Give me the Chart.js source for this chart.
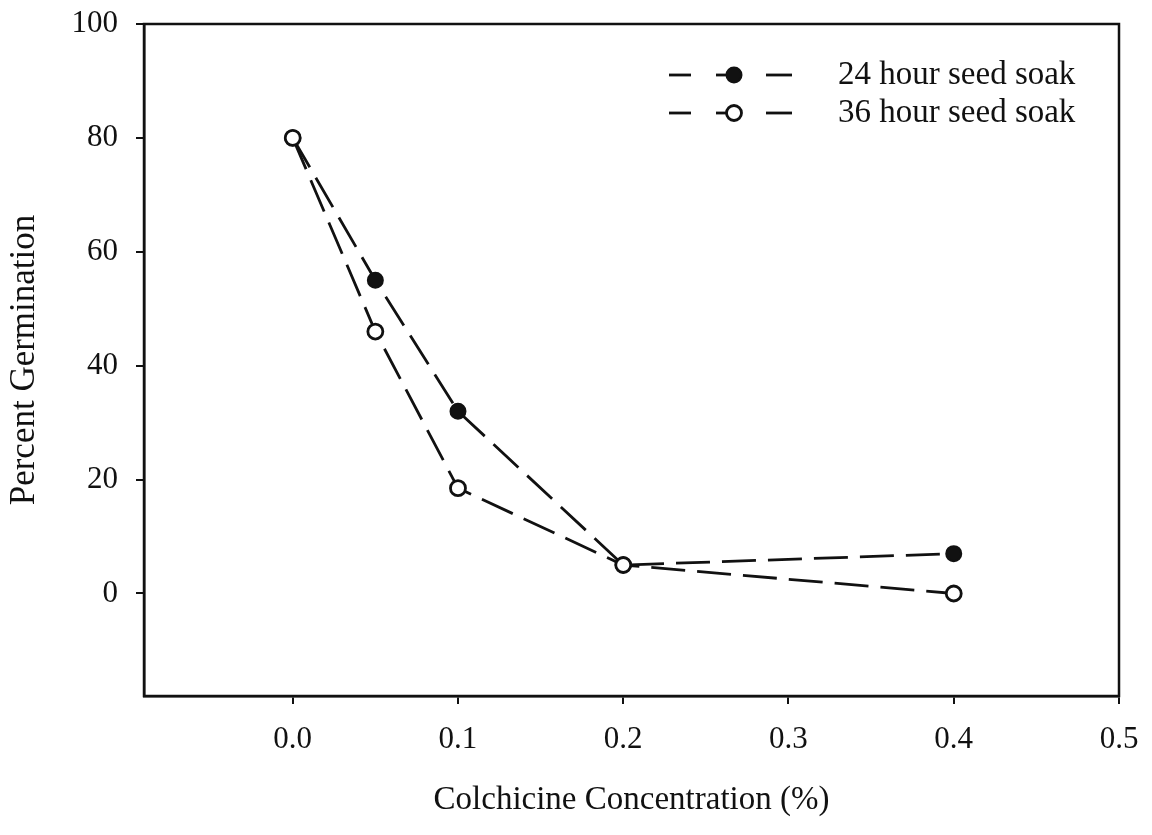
<!DOCTYPE html>
<html>
<head>
<meta charset="utf-8">
<script src="https://cdn.jsdelivr.net/npm/chart.js@4"></script>
<style>
  body { margin: 0; background: #fff; }
  #wrap { width: 1152px; height: 835px; position: relative; }
</style>
</head>
<body>
<div id="wrap"><canvas id="germChart"></canvas></div>
<script>
// Colchicine concentration (%) and germination (%) for each soak time
const concentration = [0, 0.05, 0.1, 0.2, 0.4];
const soak24 = [80, 55, 32, 5, 7];
const soak36 = [80, 46, 18.5, 5, 0];
const yTicks = [0, 20, 40, 60, 80, 100];
const xTicks = [0, 0.1, 0.2, 0.3, 0.4, 0.5];
const seriesLabels = ['24 hour seed soak', '36 hour seed soak'];

const serif = "'Liberation Serif', 'Times New Roman', serif";

function points(ys) {
  return concentration.map((c, i) => ({ x: c, y: ys[i] }));
}

// Box around the plot plus a legend with dashed line samples
const framePlugin = {
  id: 'frame',
  afterDatasetsDraw(chart) {
    const { ctx, chartArea: a } = chart;
    ctx.save();
    ctx.strokeStyle = '#111';
    ctx.lineWidth = 2.5;
    ctx.strokeRect(a.left, a.top, a.right - a.left, a.bottom - a.top);

    chart.data.datasets.forEach((ds, i) => {
      const y = a.top + 51 + i * 38;
      const x0 = a.right - 450;
      ctx.strokeStyle = ds.borderColor;
      ctx.lineWidth = ds.borderWidth;
      ctx.setLineDash([]);
      [[0, 22], [47, 65], [97, 123]].forEach(([s, e]) => {
        ctx.beginPath();
        ctx.moveTo(x0 + s, y);
        ctx.lineTo(x0 + e, y);
        ctx.stroke();
      });
      ctx.beginPath();
      ctx.arc(x0 + 65, y, ds.pointRadius, 0, Math.PI * 2);
      ctx.fillStyle = ds.pointBackgroundColor;
      ctx.fill();
      ctx.lineWidth = ds.pointBorderWidth;
      ctx.strokeStyle = ds.pointBorderColor;
      ctx.stroke();

      ctx.fillStyle = '#111';
      ctx.font = '33px ' + serif;
      ctx.textBaseline = 'middle';
      ctx.textAlign = 'left';
      ctx.fillText(ds.label, a.right - 281, y);
    });
    ctx.restore();
  }
};

const ctx = document.getElementById('germChart').getContext('2d');
const germChart = new Chart(ctx, {
  type: 'line',
  data: {
    datasets: [
      {
        label: seriesLabels[0],
        data: points(soak24),
        order: 1,
        borderColor: '#111',
        borderWidth: 2.8,
        borderDash: [34, 12],
        pointRadius: 7.5,
        pointBackgroundColor: '#111',
        pointBorderColor: '#111',
        pointBorderWidth: 2,
        tension: 0
      },
      {
        label: seriesLabels[1],
        data: points(soak36),
        order: 0,
        borderColor: '#111',
        borderWidth: 2.8,
        borderDash: [34, 12],
        pointRadius: 7.5,
        pointBackgroundColor: '#fff',
        pointBorderColor: '#111',
        pointBorderWidth: 2.8,
        tension: 0
      }
    ]
  },
  options: {
    animation: false,
    responsive: true,
    maintainAspectRatio: false,
    layout: { padding: { top: 24, right: 33, left: 0, bottom: 0 } },
    plugins: {
      legend: { display: false },
      tooltip: { enabled: false }
    },
    scales: {
      x: {
        type: 'linear',
        min: -0.09,
        max: 0.5,
        afterBuildTicks: (s) => { s.ticks = xTicks.map(v => ({ value: v })); },
        afterFit: (s) => { s.height = 139; s.paddingLeft = 0; s.paddingRight = 0; },
        grid: { drawOnChartArea: false, drawTicks: true, tickLength: 8, color: '#111', lineWidth: 2 },
        border: { display: true, color: '#111', width: 2.5 },
        ticks: {
          color: '#111',
          padding: 17,
          maxRotation: 0,
          font: { family: serif, size: 31 },
          callback: (v) => v.toFixed(1)
        },
        title: {
          display: true,
          text: 'Colchicine Concentration (%)',
          color: '#111',
          font: { family: serif, size: 33, lineHeight: 1.2 },
          padding: { top: 0, bottom: 15 }
        }
      },
      y: {
        min: -18,
        max: 100,
        afterBuildTicks: (s) => { s.ticks = yTicks.map(v => ({ value: v })); },
        afterFit: (s) => { s.width = 144; s.paddingTop = 0; s.paddingBottom = 0; },
        grid: { drawOnChartArea: false, drawTicks: true, tickLength: 8, color: '#111', lineWidth: 2 },
        border: { display: true, color: '#111', width: 2.5 },
        ticks: {
          color: '#111',
          padding: 18,
          font: { family: serif, size: 31 }
        },
        title: {
          display: true,
          text: 'Percent Germination',
          color: '#111',
          font: { family: serif, size: 35, lineHeight: 1.2 },
          padding: { top: 4, bottom: 0 }
        }
      }
    }
  },
  plugins: [framePlugin]
});
</script>
</body>
</html>
